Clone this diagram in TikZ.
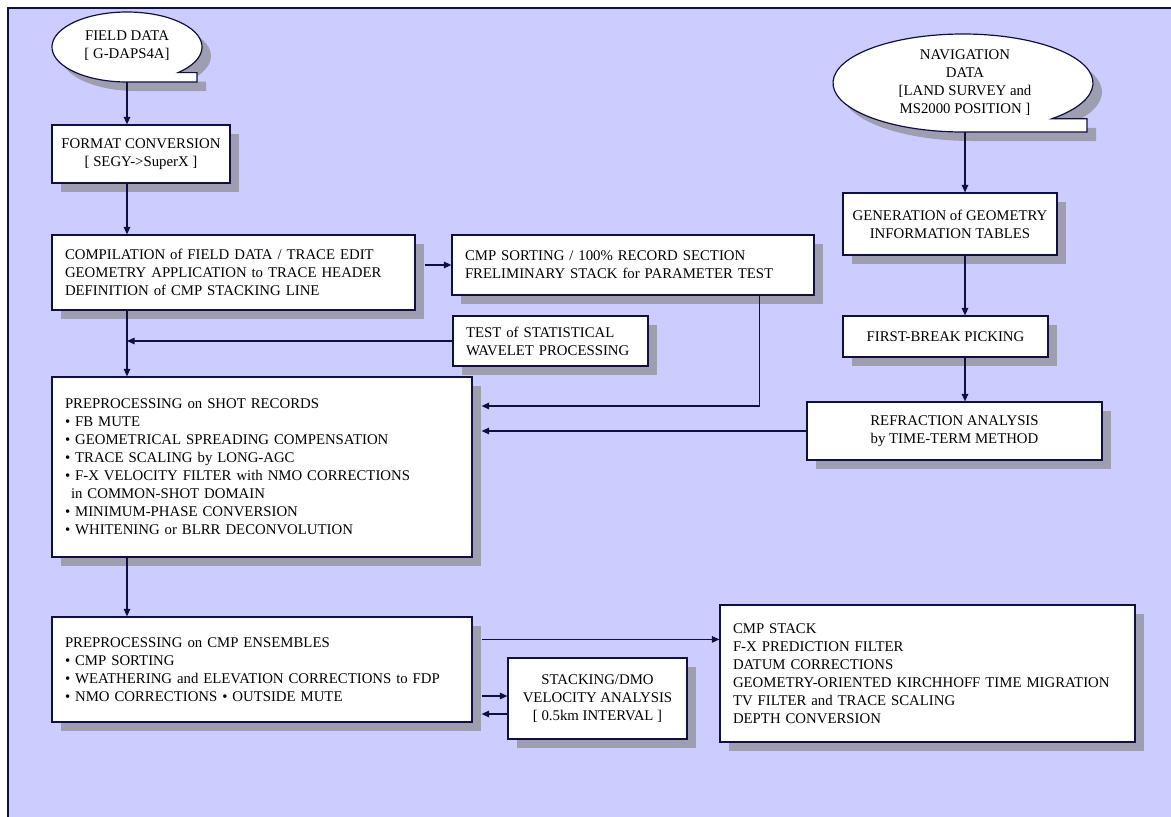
\documentclass[tikz,border=0pt]{standalone}
\usepackage{fontspec}
\setmainfont{Liberation Serif}
\usetikzlibrary{positioning,shadows,arrows.meta,calc}
\definecolor{lavender}{RGB}{204,204,255}
\definecolor{navyline}{RGB}{16,16,64}
\definecolor{shadowgray}{RGB}{158,158,176}
\tikzset{
  procbox/.style={draw=navyline, fill=white, line width=1.2pt, rectangle, inner xsep=13pt, inner ysep=0pt,
    font=\fontsize{14.8}{18}\selectfont,
    drop shadow={shadow xshift=9pt, shadow yshift=-9pt, fill=shadowgray, opacity=1}},
  leftbox/.style={procbox, align=left},
  midbox/.style={procbox, align=center, inner xsep=5pt},
  tapetext/.style={align=center, inner sep=0pt, font=\fontsize{14.8}{18}\selectfont},
  flow/.style={->, draw=navyline, line width=1.3pt}
}
% ellipse with a tab at the lower right: centre x, centre y, x radius, y radius, tab x
\newcommand{\tapeshape}[5]{%
  \fill[shadowgray] ({#1+9},{#2-9}) ++(-47:#3pt and #4pt) arc[start angle=-47, end angle=270, x radius=#3pt, y radius=#4pt]
    -- ({#5+9},{#2-#4-9}) -- ({#5+9},{#2-0.7314*#4-9}) -- cycle;
  \draw[navyline, fill=white, line width=1.2pt] (#1,#2) ++(-47:#3pt and #4pt) arc[start angle=-47, end angle=270, x radius=#3pt, y radius=#4pt]
    -- (#5,{#2-#4}) -- (#5,{#2-0.7314*#4}) -- cycle;
}
\begin{document}
\begin{tikzpicture}[x=1pt, y=1pt, >={Triangle[length=7.5pt,width=6.5pt]}]
 \useasboundingbox (0,0) rectangle (1171,-817);
 \fill[lavender] (8,-8) rectangle (1171,-817);
 \draw[navyline, line width=1.5pt] (8,-817) -- (8,-8) -- (1171,-8);

 % left column
 \tapeshape{127}{-47}{75}{35}{197}
 \node[tapetext] (fd) at (127,-46) {FIELD DATA\\{}[ G-DAPS4A]};
 \coordinate (fdb) at (127,-82);
 \node[midbox, minimum width=178pt, minimum height=58pt] (fmt) at (141,-154) {FORMAT CONVERSION\\{}[ SEGY->SuperX ]};
 \node[leftbox, text width=337pt, minimum height=75pt] (comp) at (233.5,-272.5) {COMPILATION of FIELD DATA / TRACE EDIT\\GEOMETRY APPLICATION to TRACE HEADER\\DEFINITION of CMP STACKING LINE};
 \node[leftbox, text width=336pt, minimum height=60pt] (cmpsort) at (633,-265) {CMP SORTING / 100\% RECORD SECTION\\FRELIMINARY STACK for PARAMETER TEST};
 \node[leftbox, text width=169pt, minimum height=50pt] (test) at (550.5,-341) {TEST of STATISTICAL\\WAVELET PROCESSING};
 \node[leftbox, text width=394pt, minimum height=180pt] (shot) at (262,-467) {PREPROCESSING on SHOT RECORDS\\\textbullet\ FB MUTE\\\textbullet\ GEOMETRICAL SPREADING COMPENSATION\\\textbullet\ TRACE SCALING by LONG-AGC\\\textbullet\ F-X VELOCITY FILTER with NMO CORRECTIONS\\\hspace*{6pt}in COMMON-SHOT DOMAIN\\\textbullet\ MINIMUM-PHASE CONVERSION\\\textbullet\ WHITENING or BLRR DECONVOLUTION};
 \node[leftbox, text width=394pt, minimum height=105pt] (ens) at (262,-669.5) {PREPROCESSING on CMP ENSEMBLES\\\textbullet\ CMP SORTING\\\textbullet\ WEATHERING and ELEVATION CORRECTIONS to FDP\\\textbullet\ NMO CORRECTIONS \textbullet\ OUTSIDE MUTE};
 \node[midbox, minimum width=179pt, minimum height=81pt] (stk) at (597.5,-698.5) {STACKING/DMO\\VELOCITY ANALYSIS\\{}[ 0.5km INTERVAL ]};
 \node[leftbox, text width=389pt, minimum height=137pt] (final) at (927.5,-673.5) {CMP STACK\\F-X PREDICTION FILTER\\DATUM CORRECTIONS\\GEOMETRY-ORIENTED KIRCHHOFF TIME MIGRATION\\TV FILTER and TRACE SCALING\\DEPTH CONVERSION};

 % right column
 \tapeshape{963}{-83}{130}{49}{1087}
 \node[tapetext] (nav) at (965,-83) {NAVIGATION\\DATA\\{}[LAND SURVEY and\\MS2000 POSITION ]};
 \coordinate (navb) at (965,-132);
 \node[midbox, minimum width=214pt, minimum height=62pt] (gen) at (950,-224) {GENERATION of GEOMETRY\\INFORMATION TABLES};
 \node[midbox, minimum width=205pt, minimum height=41pt] (fbp) at (945.5,-336.5) {FIRST-BREAK PICKING};
 \node[midbox, minimum width=295pt, minimum height=58pt] (refr) at (954.5,-431) {REFRACTION ANALYSIS\\by TIME-TERM METHOD};

 \coordinate (enswall) at ([xshift=9pt]ens.east);
 \coordinate (stkin) at ([yshift=2.5pt]stk.west);
 \coordinate (stkout) at ([yshift=-15.5pt]stk.west);

 % connectors
 \draw[flow] (fdb) -- (fdb |- fmt.north);
 \draw[flow] (fdb |- fmt.south) -- (fdb |- comp.north);
 \draw[flow] ([xshift=9pt]comp.east |- cmpsort.west) -- (cmpsort.west);
 \draw[flow] (fdb |- comp.south) -- (fdb |- shot.north);
 \draw[flow] (test.west) -- (fdb |- test.west);
 \draw[flow] ([xshift=-55pt]cmpsort.south east) |- ([xshift=9pt, yshift=61pt]shot.east);
 \draw[flow] (navb) -- (navb |- gen.north);
 \draw[flow] (navb |- gen.south) -- (navb |- fbp.north);
 \draw[flow] (navb |- fbp.south) -- (navb |- refr.north);
 \draw[flow] (refr.west) -- ([xshift=9pt]shot.east |- refr.west);
 \draw[flow] (fdb |- shot.south) -- (fdb |- ens.north);
 \draw[flow] ([xshift=9pt, yshift=-23pt]ens.north east) -- ([yshift=-23pt]ens.north east -| final.west);
 \draw[flow] (enswall |- stkin) -- (stkin);
 \draw[flow] (stkout) -- (enswall |- stkout);
\end{tikzpicture}
\end{document}
